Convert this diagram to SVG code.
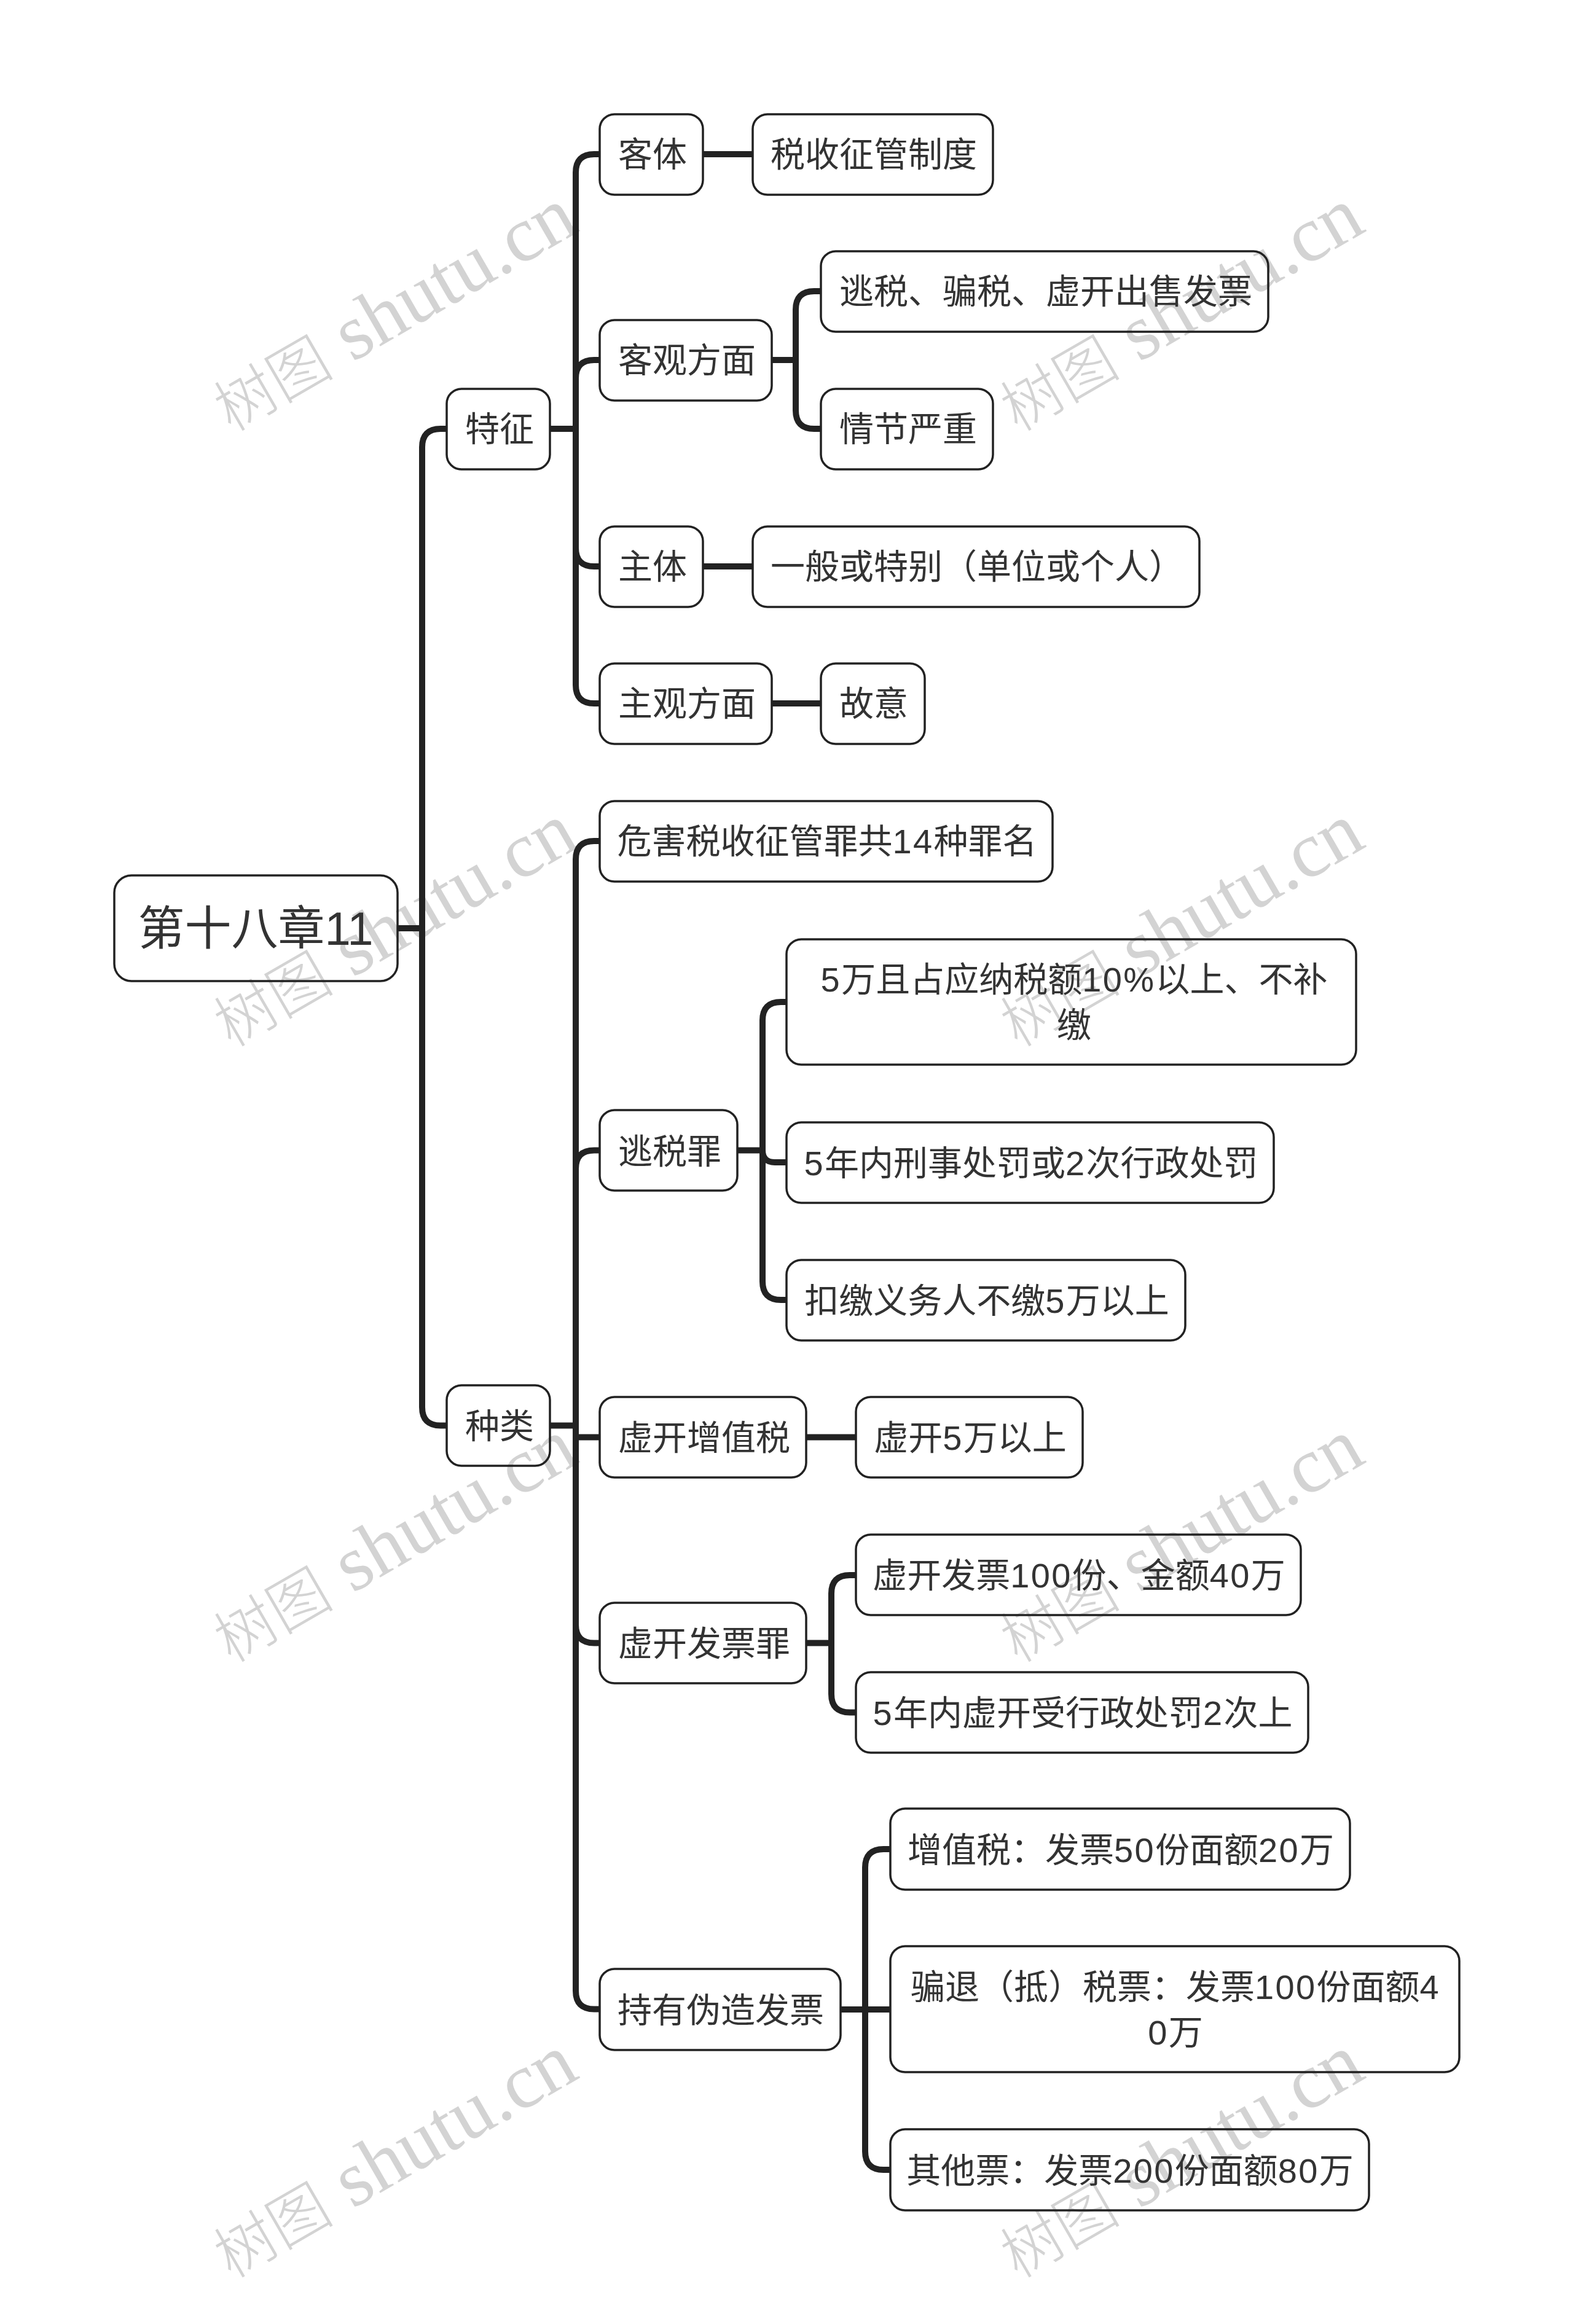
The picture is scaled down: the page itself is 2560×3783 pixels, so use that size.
<svg xmlns="http://www.w3.org/2000/svg" width="2560" height="3783" viewBox="0 0 2560 3783">
<style>
.wm{font-family:"Liberation Serif","Noto Sans CJK SC",serif;font-size:128px;fill:#d3d3d3}
.wm .z{font-size:98px;font-weight:300}
.c{fill:none;stroke:#222;stroke-width:10}
.n rect{fill:none;stroke:#222;stroke-width:3.5}
.n text{font-family:"Liberation Sans","Noto Sans CJK SC",sans-serif;font-size:56px;fill:#333;text-anchor:middle}
.d{letter-spacing:2.4px}
#root text{font-size:76px}
</style>
<rect width="2560" height="3783" fill="#fff"/>
<g id="watermarks">
<text class="wm" transform="translate(376,704) rotate(-30)"><tspan class="z">树图</tspan> shutu.cn</text>
<text class="wm" transform="translate(1656,704) rotate(-30)"><tspan class="z">树图</tspan> shutu.cn</text>
<text class="wm" transform="translate(376,1706) rotate(-30)"><tspan class="z">树图</tspan> shutu.cn</text>
<text class="wm" transform="translate(1656,1706) rotate(-30)"><tspan class="z">树图</tspan> shutu.cn</text>
<text class="wm" transform="translate(376,2708) rotate(-30)"><tspan class="z">树图</tspan> shutu.cn</text>
<text class="wm" transform="translate(1656,2708) rotate(-30)"><tspan class="z">树图</tspan> shutu.cn</text>
<text class="wm" transform="translate(376,3710) rotate(-30)"><tspan class="z">树图</tspan> shutu.cn</text>
<text class="wm" transform="translate(1656,3710) rotate(-30)"><tspan class="z">树图</tspan> shutu.cn</text>
</g>
<g id="connectors" class="c">
<path class="c" d="M647,1511H687"/>
<path class="c" d="M727,698H717Q687,698 687,728V2290.5Q687,2320.5 717,2320.5H727"/>
<path class="c" d="M895,698H937"/>
<path class="c" d="M976,251H967Q937,251 937,281V1115Q937,1145 967,1145H976"/>
<path class="c" d="M976,586H967Q937,586 937,616"/>
<path class="c" d="M976,922H967Q937,922 937,892"/>
<path class="c" d="M895,2320.5H937"/>
<path class="c" d="M976,1369H967Q937,1369 937,1399V3240.5Q937,3270.5 967,3270.5H976"/>
<path class="c" d="M976,1872.5H967Q937,1872.5 937,1902.5"/>
<path class="c" d="M976,2339.5H937"/>
<path class="c" d="M976,2674.5H967Q937,2674.5 937,2644.5"/>
<path class="c" d="M1144,251H1225"/>
<path class="c" d="M1144,922H1225"/>
<path class="c" d="M1256,1145H1335"/>
<path class="c" d="M1256,586H1295"/>
<path class="c" d="M1335,474H1325Q1295,474 1295,504V668Q1295,698 1325,698H1335"/>
<path class="c" d="M1200,1872.5H1241"/>
<path class="c" d="M1280,1631H1271Q1241,1631 1241,1661V2086Q1241,2116 1271,2116H1280"/>
<path class="c" d="M1280,1892H1261Q1241,1892 1241,1872"/>
<path class="c" d="M1312,2339.5H1393"/>
<path class="c" d="M1312,2674.5H1353"/>
<path class="c" d="M1393,2564H1383Q1353,2564 1353,2594V2757.5Q1353,2787.5 1383,2787.5H1393"/>
<path class="c" d="M1368,3271H1449"/>
<path class="c" d="M1449,3010H1438Q1408,3010 1408,3040V3502Q1408,3532 1438,3532H1449"/>
</g>
<g id="root" class="n"><rect x="186" y="1425" width="461" height="172" rx="28"/><text x="416" y="1538">第十八章11</text></g>
<g id="n1" class="n"><rect x="727" y="633" width="168" height="131" rx="24"/><text x="813" y="718">特征</text></g>
<g id="n2" class="n"><rect x="727" y="2255" width="168" height="131" rx="24"/><text x="813" y="2341">种类</text></g>
<g id="n3" class="n"><rect x="976" y="186" width="168" height="131" rx="24"/><text x="1062" y="271">客体</text></g>
<g id="n4" class="n"><rect x="1225" y="186" width="391" height="131" rx="24"/><text x="1422" y="271">税收征管制度</text></g>
<g id="n5" class="n"><rect x="976" y="521" width="280" height="131" rx="24"/><text x="1118" y="606">客观方面</text></g>
<g id="n6" class="n"><rect x="1336" y="409" width="728" height="131" rx="24"/><text x="1702" y="494">逃税、骗税、虚开出售发票</text></g>
<g id="n7" class="n"><rect x="1336" y="633" width="280" height="131" rx="24"/><text x="1478" y="718">情节严重</text></g>
<g id="n8" class="n"><rect x="976" y="857" width="168" height="131" rx="24"/><text x="1062" y="942">主体</text></g>
<g id="n9" class="n"><rect x="1225" y="857" width="727" height="131" rx="24"/><text x="1590" y="942">一般或特别（单位或个人）</text></g>
<g id="n10" class="n"><rect x="976" y="1080" width="280" height="131" rx="24"/><text x="1118" y="1165">主观方面</text></g>
<g id="n11" class="n"><rect x="1336" y="1080" width="169" height="131" rx="24"/><text x="1422" y="1165">故意</text></g>
<g id="n12" class="n"><rect x="976" y="1304" width="737" height="131" rx="24"/><text x="1346" y="1389">危害税收征管罪共<tspan class="d">14</tspan>种罪名</text></g>
<g id="n13" class="n"><rect x="976" y="1807" width="224" height="131" rx="24"/><text x="1090" y="1894">逃税罪</text></g>
<g id="n14" class="n"><rect x="1280" y="1529" width="927" height="204" rx="24"/><text x="1748" y="1614"><tspan class="d">5</tspan>万且占应纳税额<tspan class="d">10%</tspan>以上、不补</text><text x="1748" y="1688">缴</text></g>
<g id="n15" class="n"><rect x="1280" y="1827" width="793" height="131" rx="24"/><text x="1678" y="1913"><tspan class="d">5</tspan>年内刑事处罚或<tspan class="d">2</tspan>次行政处罚</text></g>
<g id="n16" class="n"><rect x="1280" y="2051" width="649" height="131" rx="24"/><text x="1606" y="2137">扣缴义务人不缴<tspan class="d">5</tspan>万以上</text></g>
<g id="n17" class="n"><rect x="976" y="2274" width="336" height="131" rx="24"/><text x="1146" y="2360">虚开增值税</text></g>
<g id="n18" class="n"><rect x="1393" y="2274" width="369" height="131" rx="24"/><text x="1579" y="2360">虚开<tspan class="d">5</tspan>万以上</text></g>
<g id="n19" class="n"><rect x="976" y="2609" width="336" height="131" rx="24"/><text x="1146" y="2695">虚开发票罪</text></g>
<g id="n20" class="n"><rect x="1393" y="2498" width="724" height="131" rx="24"/><text x="1756" y="2584">虚开发票<tspan class="d">100</tspan>份、金额<tspan class="d">40</tspan>万</text></g>
<g id="n21" class="n"><rect x="1393" y="2722" width="736" height="131" rx="24"/><text x="1762" y="2808"><tspan class="d">5</tspan>年内虚开受行政处罚<tspan class="d">2</tspan>次上</text></g>
<g id="n22" class="n"><rect x="976" y="3205" width="392" height="132" rx="24"/><text x="1173" y="3292">持有伪造发票</text></g>
<g id="n23" class="n"><rect x="1449" y="2944" width="748" height="132" rx="24"/><text x="1824" y="3031">增值税：发票<tspan class="d">50</tspan>份面额<tspan class="d">20</tspan>万</text></g>
<g id="n24" class="n"><rect x="1449" y="3168" width="926" height="205" rx="24"/><text x="1913" y="3254">骗退（抵）税票：发票<tspan class="d">100</tspan>份面额<tspan class="d">4</tspan></text><text x="1913" y="3328"><tspan class="d">0</tspan>万</text></g>
<g id="n25" class="n"><rect x="1449" y="3466" width="779" height="132" rx="24"/><text x="1839" y="3553">其他票：发票<tspan class="d">200</tspan>份面额<tspan class="d">80</tspan>万</text></g>
</svg>
